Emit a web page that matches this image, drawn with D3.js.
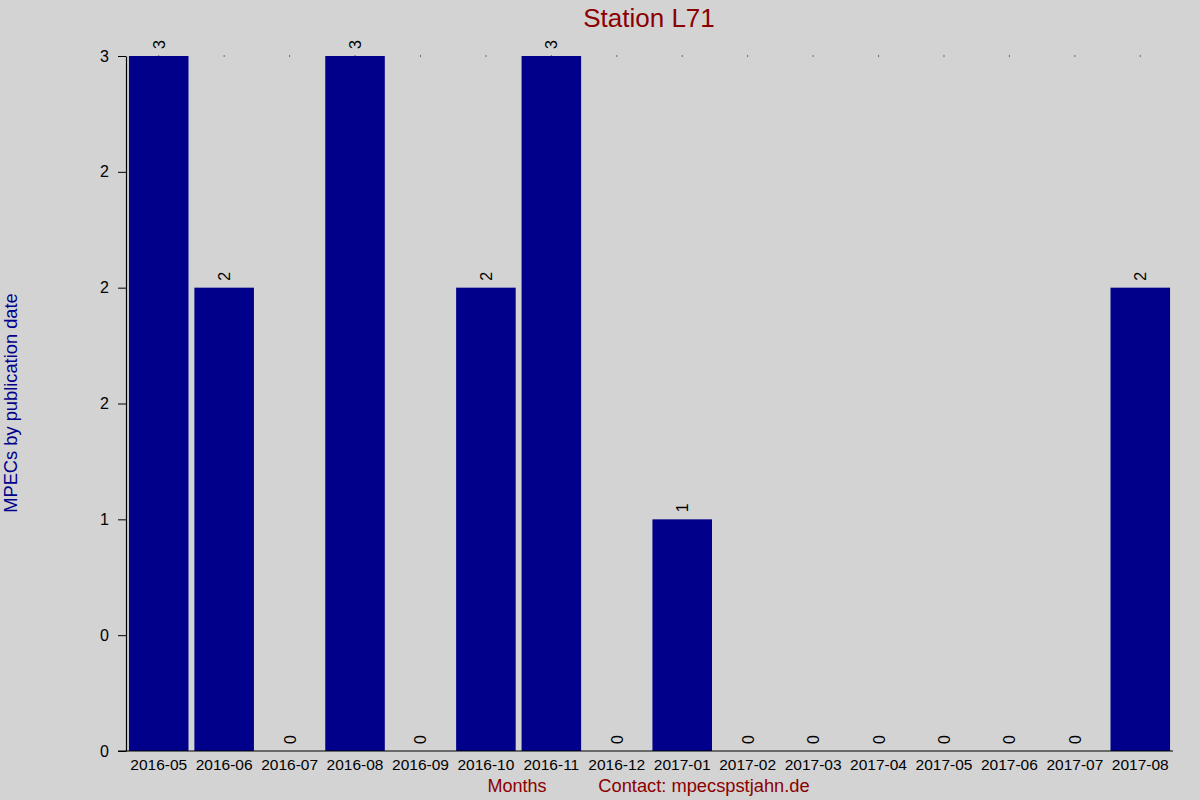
<!DOCTYPE html>
<html lang="en">
<head>
    <meta charset="UTF-8">
    <title>Station L71</title>
    <script src="https://cdnjs.cloudflare.com/ajax/libs/d3/7.8.5/d3.min.js"></script>
    <style>
        body {
            margin: 0;
            background: #d3d3d3;
            font-family: "Liberation Sans", Arial, sans-serif;
        }
        svg text {
            font-family: "Liberation Sans", Arial, sans-serif;
        }
    </style>
</head>
<body>
    <div id="chart"></div>
    <script>
        // Data
        const months = ["2016-05", "2016-06", "2016-07", "2016-08", "2016-09", "2016-10", "2016-11", "2016-12",
                        "2017-01", "2017-02", "2017-03", "2017-04", "2017-05", "2017-06", "2017-07", "2017-08"];
        const counts = [3, 2, 0, 3, 0, 2, 3, 0, 1, 0, 0, 0, 0, 0, 0, 2];
        const yTickValues = [0, 0.5, 1, 1.5, 2, 2.5, 3];
        const yTickLabels = ["0", "0", "1", "2", "2", "2", "3"];

        const width = 1200, height = 800;
        const plotLeft = 126, plotRight = 1173, plotTop = 56, plotBottom = 751;

        const svg = d3.select("#chart").append("svg")
            .attr("width", width)
            .attr("height", height);

        svg.append("rect")
            .attr("width", width)
            .attr("height", height)
            .attr("fill", "#d3d3d3");

        const x = d3.scaleBand()
            .domain(months)
            .range([plotLeft, plotRight])
            .paddingInner(0.09)
            .paddingOuter(0.045);

        const y = d3.scaleLinear()
            .domain([0, 3])
            .range([plotBottom, plotTop]);

        // small dots at the top of each column
        svg.selectAll(".dot")
            .data(months)
            .enter().append("rect")
            .attr("x", d => x(d) + x.bandwidth() / 2 - 0.5)
            .attr("y", y(3) - 0.5)
            .attr("width", 1)
            .attr("height", 1)
            .attr("fill", "#000");

        // bars
        svg.selectAll(".bar")
            .data(counts)
            .enter().append("rect")
            .attr("class", "bar")
            .attr("x", (d, i) => x(months[i]))
            .attr("y", d => y(d))
            .attr("width", x.bandwidth())
            .attr("height", d => y(0) - y(d))
            .attr("fill", "#00008b");

        // value labels, rotated
        svg.selectAll(".val")
            .data(counts)
            .enter().append("text")
            .attr("transform", (d, i) => `translate(${x(months[i]) + x.bandwidth() / 2 + 6},${y(d) - 7}) rotate(-90)`)
            .attr("font-size", 16)
            .attr("fill", "#000")
            .text(d => d);

        // y axis
        const yAxis = d3.axisLeft(y)
            .tickValues(yTickValues)
            .tickFormat((d, i) => yTickLabels[i])
            .tickSize(8)
            .tickSizeOuter(0);

        const ya = svg.append("g")
            .attr("transform", `translate(${plotLeft},0)`)
            .call(yAxis);
        ya.select(".domain").attr("stroke", "#000").attr("stroke-width", 1.2);
        ya.selectAll(".tick line").attr("stroke", "#000");
        ya.selectAll(".tick text")
            .attr("font-size", 16)
            .attr("fill", "#000")
            .attr("x", -17)
            .attr("font-family", "Liberation Sans, Arial, sans-serif");

        // x axis
        const xAxis = d3.axisBottom(x).tickSize(0).tickSizeOuter(0);
        const xa = svg.append("g")
            .attr("transform", `translate(0,${plotBottom})`)
            .call(xAxis);
        xa.select(".domain").remove();
        xa.append("line")
            .attr("x1", plotLeft - 8)
            .attr("x2", plotRight)
            .attr("stroke", "#000")
            .attr("stroke-width", 1.2);
        xa.selectAll(".tick text")
            .attr("font-size", 15.5)
            .attr("fill", "#000")
            .attr("y", 19)
            .attr("dy", 0)
            .attr("font-family", "Liberation Sans, Arial, sans-serif");

        // title and axis titles
        svg.append("text")
            .attr("x", 649)
            .attr("y", 27)
            .attr("text-anchor", "middle")
            .attr("font-size", 26)
            .attr("fill", "#8b0000")
            .text("Station L71");

        svg.append("text")
            .attr("transform", "translate(17,403) rotate(-90)")
            .attr("text-anchor", "middle")
            .attr("font-size", 18.3)
            .attr("fill", "#00008b")
            .text("MPECs by publication date");

        svg.append("text")
            .attr("x", 517)
            .attr("y", 792)
            .attr("text-anchor", "middle")
            .attr("font-size", 18)
            .attr("fill", "#8b0000")
            .text("Months");

        svg.append("text")
            .attr("x", 704)
            .attr("y", 792)
            .attr("text-anchor", "middle")
            .attr("font-size", 18.3)
            .attr("fill", "#8b0000")
            .text("Contact: mpecspstjahn.de");
    </script>
</body>
</html>
